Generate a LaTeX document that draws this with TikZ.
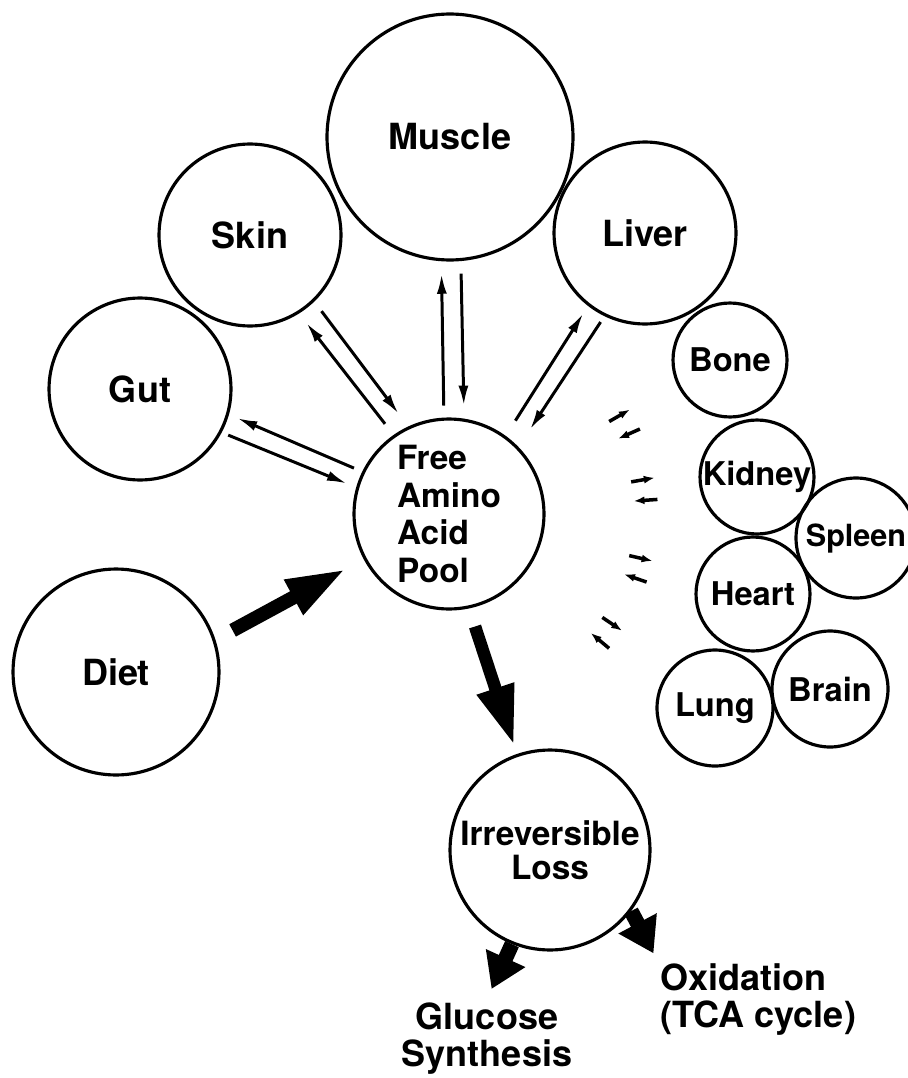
\documentclass[tikz,border=0pt]{standalone}
\usepackage{fontspec}
\setmainfont{TeX Gyre Heros}
\usepackage{tikz}
\usetikzlibrary{arrows.meta, calc}

\begin{document}
\begin{tikzpicture}[x=0.02cm, y=-0.02cm, line width=1.8pt,
  organ/.style={circle, draw, inner sep=0pt, font=\bfseries\fontsize{20.5}{23}\selectfont},
  smallorgan/.style={circle, draw, inner sep=0pt, font=\bfseries\fontsize{18.6}{21}\selectfont},
  lbl/.style={inner sep=1pt, font=\bfseries\fontsize{20.5}{21.5}\selectfont},
  flux/.style={-{Latex[length=0.4cm, width=0.2cm]}, line width=1.7pt},
  bigflux/.style={-{Triangle[length=1.2cm, width=0.72cm]}, line width=0.28cm},
  outflux/.style={-{Triangle[length=0.68cm, width=0.82cm]}, line width=0.3cm},
  tiny/.style={-{Latex[length=0.22cm, width=0.16cm]}, line width=2pt}]
  \useasboundingbox (0,0) rectangle (907,1078);

  % Organs round the pool
  \node[organ, minimum size=4.92cm] (muscle) at (450,137) {Muscle};
  \node[organ, minimum size=3.64cm] (skin) at (250,235) {Skin};
  \node[organ, minimum size=3.64cm] (liver) at (645,233) {Liver};
  \node[organ, minimum size=3.64cm] (gut) at (140,389) {Gut};
  \node[organ, minimum size=4.12cm] (diet) at (116,672) {Diet};
  \node[organ, minimum size=3.8cm, align=left, font=\bfseries\fontsize{19}{21.4}\selectfont]
    (pool) at (449,514) {Free\\Amino\\Acid\\Pool};
  \node[organ, minimum size=4cm, align=center, font=\bfseries\fontsize{19}{19.4}\selectfont]
    (loss) at (550,850) {Irreversible\\Loss};

  % Small organs
  \node[smallorgan, minimum size=2.28cm] (bone) at (730,360) {Bone};
  \node[smallorgan, minimum size=2.28cm] (kidney) at (757,477) {Kidney};
  \node[smallorgan, minimum size=2.4cm, font=\bfseries\fontsize{17.4}{20}\selectfont] (spleen) at (856,538) {Spleen};
  \node[smallorgan, minimum size=2.28cm] (heart) at (753,594) {Heart};
  \node[smallorgan, minimum size=2.32cm] (lung) at (715,708) {Lung};
  \node[smallorgan, minimum size=2.32cm] (brain) at (830,689) {Brain};

  % End products
  \node[lbl, align=center, anchor=north] (glucose) at (487,999) {Glucose\\Synthesis};
  \node[lbl, align=left, anchor=north west] (oxid) at (657,960) {Oxidation\\(TCA cycle)};

  % Exchange with the pool
  \draw[flux, shorten <=0.24cm, shorten >=0.25cm] (pool.93) -- (muscle.-94);
  \draw[flux, shorten <=0.25cm, shorten >=0.26cm] (muscle.-85) -- (pool.81.5);
  \draw[flux, shorten <=0.28cm, shorten >=0.24cm] (pool.125) -- (skin.-58);
  \draw[flux, shorten <=0.24cm, shorten >=0.32cm] (skin.-46) -- (pool.115);
  \draw[flux, shorten <=0.18cm, shorten >=0.18cm] (pool.154) -- (gut.-16);
  \draw[flux, shorten <=0.14cm, shorten >=0.2cm] (gut.-28) -- (pool.164.5);
  \draw[flux, shorten <=0.36cm, shorten >=0.18cm] (pool.54) -- (liver.-128.5);
  \draw[flux, shorten <=0.14cm, shorten >=0.42cm] (liver.-116.6) -- (pool.44);

  % Small organs: short marks only
  \foreach \a in {27,7,-16,-37}{
    \draw[tiny] ($(pool)+(\a+3:3.7cm)$) -- ($(pool)+(\a+3:4.18cm)$);
    \draw[tiny] ($(pool)+(\a-3:4.18cm)$) -- ($(pool)+(\a-3:3.7cm)$);
  }

  % Intake and loss
  \draw[bigflux, shorten <=0.39cm, shorten >=0.4cm] (diet.18.5) -- (pool.208.7);
  \draw[bigflux, line width=0.25cm, shorten <=0.38cm, shorten >=0.18cm] (pool.-78.7) -- (loss.109.3);
  \draw[outflux, shorten >=0.22cm] (loss.-112) -- (glucose.north);
  \draw[outflux, shorten >=0.15cm] (loss.-37) -- (oxid.north west);
\end{tikzpicture}
\end{document}
